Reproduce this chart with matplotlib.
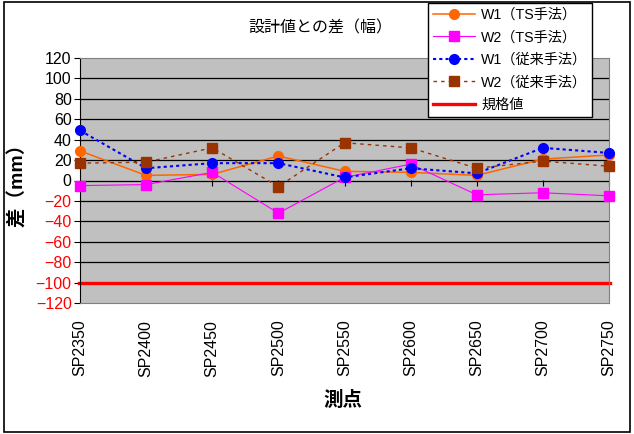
import matplotlib
matplotlib.use('Agg')
import matplotlib.pyplot as plt
from matplotlib.patches import Rectangle
import numpy as np

plt.rcParams['font.family'] = ['Liberation Sans', 'Noto Sans CJK JP', 'DejaVu Sans']

cats = ['SP2350', 'SP2400', 'SP2450', 'SP2500', 'SP2550',
        'SP2600', 'SP2650', 'SP2700', 'SP2750']
w1_ts = [29, 5, 6, 24, 9, 8, 5, 21, 25]
w2_ts = [-5, -4, 8, -32, 3, 16, -14, -12, -15]
w1_old = [49, 12, 17, 17, 3, 12, 7, 32, 27]
w2_old = [17, 18, 32, -6, 37, 32, 12, 19, 14]
spec = [-100] * len(cats)
yticks = list(range(-120, 121, 20))

W, H = 634, 434
fig = plt.figure(figsize=(W / 100, H / 100), dpi=100)
ax = fig.add_axes([80 / W, 1 - 303 / H, (609 - 80) / W, (303 - 58) / H])
ax.set_facecolor('#C0C0C0')

x = np.arange(len(cats))
ax.set_xlim(0, len(cats) - 1)
ax.set_ylim(-120, 120)

# grid
for v in yticks[1:-1]:
    ax.axhline(v, color='black', lw=0.9, zorder=1)

ax.plot(x, w1_ts, color='#FF6600', lw=1.1, marker='o', ms=7,
        label='W1（TS手法）', clip_on=False, zorder=3)
ax.plot(x, w2_ts, color='#FF00FF', lw=0.8, marker='s', ms=7,
        label='W2（TS手法）', clip_on=False, zorder=3)
ax.plot(x, w1_old, color='#0000FF', lw=1.5, ls=(0, (1.5, 1.5)), marker='o', ms=7,
        label='W1（従来手法）', clip_on=False, zorder=3)
ax.plot(x, w2_old, color='#993300', lw=1.0, ls=(0, (2.5, 3)), marker='s', ms=7,
        label='W2（従来手法）', clip_on=False, zorder=3)
ax.plot([x[0] - 0.02, x[-1] + 0.02], [spec[0], spec[-1]], color='#FF0000', lw=2.4,
        label='規格値', clip_on=False, zorder=2)

# axes styling
for s in ['top', 'right', 'bottom']:
    ax.spines[s].set_color('#808080')
ax.spines['left'].set_color('black')

ax.set_yticks(yticks)
ax.set_yticklabels([str(v) if v >= 0 else '−' + str(-v) for v in yticks])
ax.tick_params(axis='y', direction='out', length=4, labelsize=11.5, pad=2)
for t, v in zip(ax.get_yticklabels(), yticks):
    t.set_color('red' if v < 0 else 'black')

ax.set_xticks(x)
ax.set_xticklabels(cats, rotation=90, va='top')
ax.tick_params(axis='x', length=0, labelsize=11.5, pad=12)

# x axis crosses at 0
sec = ax.secondary_xaxis(0.5)
sec.set_xticks(x)
sec.xaxis.set_ticks_position('bottom')
sec.tick_params(direction='out', length=4, labelbottom=False, labeltop=False, color='black')
sec.spines['bottom'].set_visible(False)
sec.spines['top'].set_visible(False)

fig.text(320 / W, 1 - 28 / H, '設計値との差（幅）', ha='center', va='center', fontsize=11.5)
fig.text(18 / W, 1 - 180 / H, '差（mm）', rotation=90, ha='center', va='center',
         fontsize=14, fontweight='bold')
fig.text(343 / W, 1 - 400 / H, '測点', ha='center', va='center',
         fontsize=14, fontweight='bold')

leg = fig.legend(loc='upper left', bbox_to_anchor=(428 / W, 1 - 3 / H), fontsize=10.2,
                 frameon=True, fancybox=False, edgecolor='black', framealpha=1,
                 handlelength=3.0, borderpad=0.35, labelspacing=0.6, handletextpad=0.4,
                 borderaxespad=0)
leg.get_frame().set_linewidth(1.0)

fig.patches.append(Rectangle((4 / W, 2 / H), (630 - 4) / W, (432 - 2) / H,
                             transform=fig.transFigure, fill=False, ec='black', lw=1.2))

fig.savefig('out.png', dpi=100)
